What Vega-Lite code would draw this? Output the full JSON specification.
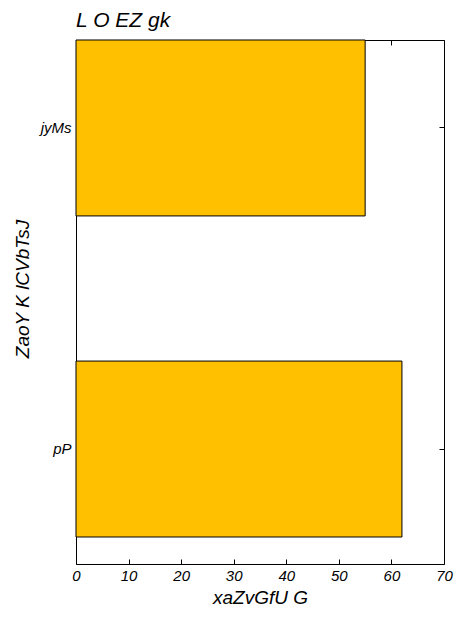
{
  "$schema": "https://vega.github.io/schema/vega-lite/v6.json",
  "autosize": "none",
  "padding": {"left": 76, "top": 40, "right": 24, "bottom": 60},
  "width": 368,
  "height": 524,
  "title": {"text": "L O EZ gk", "anchor": "start", "frame": "group", "font": "Liberation Sans", "fontStyle": "italic", "fontWeight": "normal", "fontSize": 21, "color": "black", "offset": 8},
  "config": {
    "view": {"stroke": "black", "strokeWidth": 1},
    "axis": {"font": "Liberation Sans", "labelFont": "Liberation Sans", "titleFont": "Liberation Sans", "labelFontStyle": "italic", "titleFontStyle": "italic", "titleFontWeight": "normal", "labelFontSize": 15, "titleFontSize": 19, "labelColor": "black", "titleColor": "black", "tickColor": "black", "domain": false, "grid": false, "tickSize": -5, "labelPadding": 10}
  },
  "data": {"values": [
    {"category": "jyMs", "value": 55},
    {"category": "pP", "value": 62}
  ]},
  "encoding": {
    "y": {"field": "category", "type": "nominal", "sort": ["jyMs", "pP"],
      "scale": {"range": [-13.5, 510.5], "paddingInner": 0.452, "paddingOuter": 0.042}},
    "x": {"field": "value", "type": "quantitative", "scale": {"domain": [0, 70], "nice": false, "zero": true}}
  },
  "layer": [
    {
      "mark": {"type": "bar", "fill": "#FFC000", "stroke": "black", "strokeWidth": 1},
      "encoding": {
        "y": {"field": "category", "type": "nominal", "sort": ["jyMs", "pP"], "axis": {"title": "ZaoY K lCVbTsJ", "titlePadding": 8, "labelPadding": 10}},
        "x": {"field": "value", "type": "quantitative", "axis": {"title": "xaZvGfU G", "values": [0,10,20,30,40,50,60,70], "titlePadding": 5, "labelPadding": 9, "labelFlush": false}}
      }
    },
    {
      "mark": {"type": "bar", "opacity": 0},
      "encoding": {
        "y": {"field": "category", "type": "nominal", "sort": ["jyMs", "pP"], "axis": {"orient": "right", "labels": false, "title": null}},
        "x": {"field": "value", "type": "quantitative", "axis": {"orient": "top", "labels": false, "title": null, "values": [0,10,20,30,40,50,60,70]}}
      }
    }
  ],
  "resolve": {"axis": {"x": "independent", "y": "independent"}}
}
